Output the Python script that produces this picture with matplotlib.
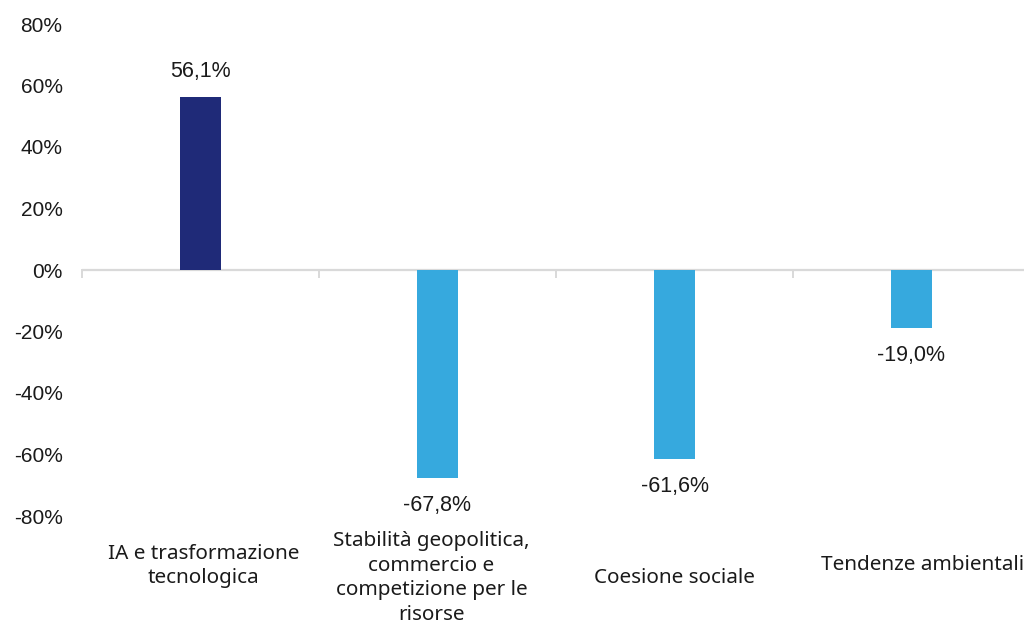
import matplotlib.pyplot as plt
from matplotlib.ticker import FuncFormatter

CATEGORIES = [
    "IA e trasformazione\ntecnologica",
    "Stabilità geopolitica,\ncommercio e\ncompetizione per le\nrisorse",
    "Coesione sociale",
    "Tendenze ambientali",
]
VALUES = [56.1, -67.8, -61.6, -19.0]
COLORS = ["#1F2A78", "#36A9DE", "#36A9DE", "#36A9DE"]
# placement of each category label: (dx, centre y) in figure pixels
LABEL_POS_PX = [(3, 566), (-6, 578), (0, 578), (11, 565)]

W, H = 1024, 622
fig = plt.figure(figsize=(W / 100, H / 100), dpi=100)
ax = fig.add_axes([82 / W, (H - 516) / H, 948 / W, 492 / H])

x = list(range(len(VALUES)))
ax.bar(x, VALUES, width=0.17, color=COLORS, zorder=3)

for xi, v in zip(x, VALUES):
    txt = f"{v:.1f}%".replace(".", ",")
    off = 11 if v >= 0 else -12
    ax.annotate(txt, (xi, v), xytext=(0, off), textcoords="offset points",
                ha="center", va="bottom" if v >= 0 else "top",
                fontsize=15.5, family="Liberation Sans", color="#1a1a1a")

ax.set_xlim(-0.5, len(VALUES) - 0.5)
ax.set_ylim(-80, 80)
ax.set_yticks(range(-80, 81, 20))
ax.yaxis.set_major_formatter(FuncFormatter(lambda v, _: f"{v:.0f}%"))
ax.tick_params(axis="y", length=0, pad=14, labelsize=15, labelcolor="#1a1a1a")
for lab in ax.get_yticklabels():
    lab.set_family("Liberation Sans")

ax.set_xticks([])
for s in ax.spines.values():
    s.set_visible(False)

# zero line with tick marks between categories
ax.axhline(0, color="#D9D9D9", linewidth=1.6, zorder=2)
for b in [i - 0.5 for i in range(len(VALUES) + 1)]:
    ax.plot([b, b], [0, -2.3], color="#D9D9D9", linewidth=1.4, zorder=2,
            clip_on=False)

for xi, lab, (dx, ypx) in zip(x, CATEGORIES, LABEL_POS_PX):
    xf = (ax.transData.transform((xi, 0))[0] + dx) / W
    fig.text(xf, 1 - ypx / H, lab, ha="center", va="center", fontsize=14.9,
             family="Noto Sans", color="#1a1a1a", linespacing=1.3)

fig.savefig("out.png", dpi=100)
